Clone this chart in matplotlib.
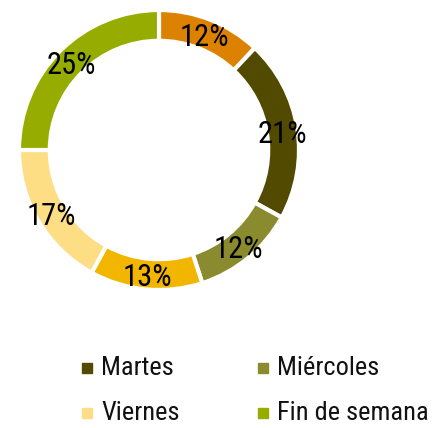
import numpy as np
import matplotlib
matplotlib.use("Agg")
import matplotlib.pyplot as plt
from matplotlib.patches import Rectangle

# Reparto por día de la semana (en %)
dias = ["Lunes", "Martes", "Miércoles", "Jueves", "Viernes", "Fin de semana"]
porcentajes = [12, 21, 12, 13, 17, 25]
colores = ["#DC8200", "#524A00", "#8A8A2E", "#F2B600", "#FDDE85", "#96AD00"]

# entradas visibles en la leyenda (2 columnas)
leyenda = ["Martes", "Miércoles", "Viernes", "Fin de semana"]

plt.rcParams["font.family"] = ["Roboto Condensed", "Liberation Sans Narrow", "DejaVu Sans"]

W, H = 441, 428
fig = plt.figure(figsize=(W / 100, H / 100), dpi=100)

# anillo: centro (159, 150) px, radio 140 px
cx, cy, r = 159, 150, 140
ax = fig.add_axes([(cx - r) / W, (H - cy - r) / H, 2 * r / W, 2 * r / H])

ancho = 0.22
wedges, _ = ax.pie(porcentajes, colors=colores, startangle=90, counterclock=False,
                   radius=1, wedgeprops=dict(width=ancho, edgecolor="white", linewidth=3))
ax.set_xlim(-1, 1)
ax.set_ylim(-1, 1)
ax.set_aspect("equal")
ax.axis("off")

# etiquetas de porcentaje en el centro del anillo (un poco bajadas)
for w, p in zip(wedges, porcentajes):
    ang = np.deg2rad((w.theta1 + w.theta2) / 2)
    rr = 1 - ancho / 2
    ax.text(rr * np.cos(ang), rr * np.sin(ang) - 0.025, f"{p}%", ha="center", va="center",
            fontsize=22, color="black")

# leyenda manual en 2 columnas
col_x = [82, 258]
fila_y = [368, 413]
for i, nombre in enumerate(leyenda):
    x = col_x[i % 2]
    y = fila_y[i // 2]
    c = colores[dias.index(nombre)]
    fig.add_artist(Rectangle((x / W, (H - y - 5) / H), 10 / W, 10 / H,
                             transform=fig.transFigure, color=c))
    fig.text((x + 19) / W, (H - y) / H, nombre, ha="left", va="center",
             fontsize=19, color="#111111")

fig.savefig("out.png", dpi=100)
